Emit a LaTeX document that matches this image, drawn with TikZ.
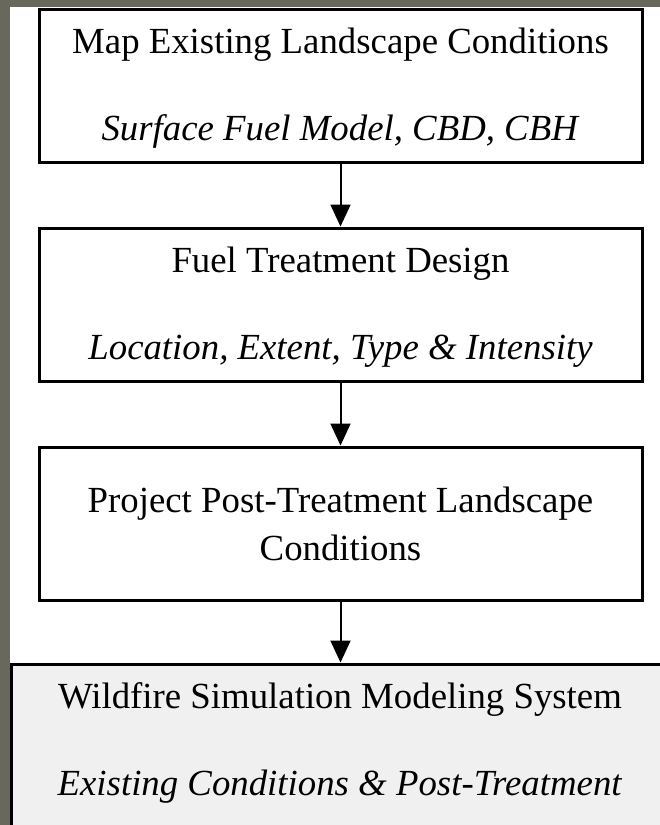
\documentclass[tikz,border=0pt]{standalone}
\usepackage{fontspec}
\setmainfont{Liberation Serif}
\usetikzlibrary{arrows.meta}
\definecolor{frame}{HTML}{68685C}
\definecolor{simfill}{HTML}{F0F0F0}
\begin{document}
\begin{tikzpicture}[x=1pt, y=-1pt,
  font=\fontsize{36.8}{48}\selectfont,
  stepbox/.style={draw=black, line width=3pt, fill=white,
    minimum width=603pt, minimum height=153pt, inner sep=0pt},
  steptext/.style={align=center, inner sep=0pt},
  flow/.style={line width=2pt, -{Triangle[length=22pt, width=20pt]}}]
  \useasboundingbox (0,0) rectangle (660,825);
  % page frame and white panel
  \fill[frame] (0,0) rectangle (660,825);
  \fill[white] (10,7) rectangle (680,845);
  % process steps
  \node[stepbox] (map) at (340.5,85.5) {};
  \node[steptext, yshift=-2.5pt] (maptext) at (map)
    {Map Existing Landscape Conditions\\[39pt]\textit{Surface Fuel Model, CBD, CBH}};
  \node[stepbox] (design) at (340.5,304.5) {};
  \node[steptext, yshift=-2.5pt] (designtext) at (design)
    {Fuel Treatment Design\\[39pt]\textit{Location, Extent, Type \& Intensity}};
  \node[stepbox] (project) at (340.5,523.5) {};
  \node[steptext] (projecttext) at (project)
    {Project Post-Treatment Landscape\\Conditions};
  % simulation system, running off the page edge
  \node[draw=black, line width=3pt, fill=simfill, minimum width=658pt,
    minimum height=170pt, inner sep=0pt] (sim) at (340,749) {};
  \node[steptext] (simtext) at (340,743)
    {Wildfire Simulation Modeling System\\[39pt]\textit{Existing Conditions \& Post-Treatment}};
  % connectors
  \draw[flow] (map) -- (design);
  \draw[flow] (design) -- (project);
  \draw[flow] (project) -- (project.south |- sim.north);
\end{tikzpicture}
\end{document}
